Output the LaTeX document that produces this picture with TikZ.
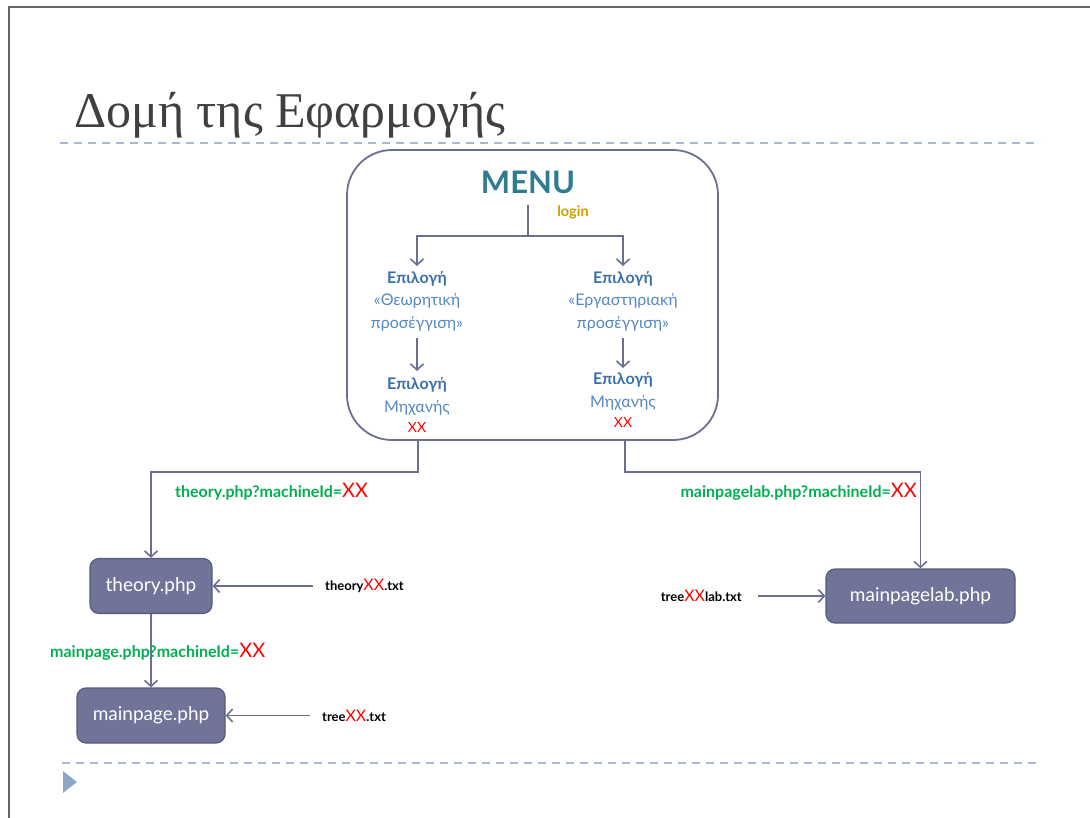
\documentclass[tikz,border=0pt]{standalone}
\usepackage{fontspec}
\setmainfont{Lato}
\newfontfamily\titlefont{Liberation Serif}
\usetikzlibrary{arrows.meta}
\definecolor{conn}{HTML}{6B7093}
\definecolor{boxfill}{HTML}{6F7498}
\definecolor{boxedge}{HTML}{575C7F}
\definecolor{dashc}{HTML}{A7BBD0}
\definecolor{tri}{HTML}{8EA8C3}
\definecolor{menuc}{HTML}{2F7C8E}
\definecolor{gblue}{HTML}{3A70AA}
\definecolor{lblue}{HTML}{5588C0}
\definecolor{loginc}{HTML}{C8A000}
\definecolor{greenc}{HTML}{00B050}
\definecolor{redc}{HTML}{FF0000}
\definecolor{titlec}{HTML}{404040}
\tikzset{
  wire/.style={draw=conn, line width=1.6pt},
  arr/.style={wire, -{Straight Barb[length=6pt,width=13pt,line width=1.6pt]}},
  phpbox/.style={draw=boxedge, line width=1.2pt, fill=boxfill, rounded corners=9pt, text=white, font=\fontsize{19}{22}\selectfont, inner sep=0pt},
  gtext/.style={align=center, font=\fontsize{16}{22.5}\selectfont, text=lblue, inner sep=0pt},
  lbl/.style={font=\bfseries\fontsize{16}{18}\selectfont, text=greenc, inner sep=0pt},
  ftxt/.style={font=\bfseries\fontsize{13}{14}\selectfont, text=black, inner sep=0pt},
  dashln/.style={draw=dashc, line width=1.6pt, dash pattern=on 8pt off 6pt},
}
\newcommand{\xx}{\textcolor{redc}{\mdseries\fontsize{20}{20}\selectfont XX}}
\newcommand{\xs}{\textcolor{redc}{\mdseries\fontsize{16}{16}\selectfont XX}}
\begin{document}
\begin{tikzpicture}[x=1pt,y=-1pt]
\useasboundingbox (0,0) rectangle (1090,818);
\fill[white] (0,0) rectangle (1090,818);
% slide border
\draw[draw=gray!80!black, line width=2pt] (8.5,818) -- (8.5,7) -- (1090,7);
% title
\node[anchor=base west, inner sep=0pt, text=titlec, font=\titlefont\fontsize{50}{50}\selectfont] (title) at (74,128) {Δομή της Εφαρμογής};
\draw[dashln] (60,143) -- (1040,143);
\draw[dashln] (62,763) -- (1040,763);
\fill[tri] (63,771) -- (77,782) -- (63,793) -- cycle;
% menu frame
\node[draw=conn, line width=1.8pt, rounded corners=45pt, minimum width=371pt, minimum height=290pt, inner sep=0pt] (menu) at (532.5,295) {};
\node[text=menuc, font=\bfseries\fontsize{31}{31}\selectfont, inner sep=0pt] (menut) at (528,182) {MENU};
\node[text=loginc, font=\bfseries\fontsize{14.5}{14.5}\selectfont, inner sep=0pt] (login) at (573,212) {login};
\coordinate (mtop) at (528,205);
\coordinate (msplit) at (528,236);
% left column
\node[gtext] (l1) at (417,301) {\textbf{\textcolor{gblue}{Επιλογή}}\\«Θεωρητική\\προσέγγιση»};
\node[gtext] (l2) at (417,405) {\textbf{\textcolor{gblue}{Επιλογή}}\\Μηχανής\\[-2pt]{\fontsize{14}{14}\selectfont\textcolor{redc}{XX}}};
% right column
\node[gtext] (r1) at (623,301) {\textbf{\textcolor{gblue}{Επιλογή}}\\«Εργαστηριακή\\προσέγγιση»};
\node[gtext] (r2) at (623,400) {\textbf{\textcolor{gblue}{Επιλογή}}\\Μηχανής\\[-2pt]{\fontsize{14}{14}\selectfont\textcolor{redc}{XX}}};
\coordinate (l1in) at (417,266);
\coordinate (r1in) at (623,266);
\coordinate (l1out) at (417,338);
\coordinate (r1out) at (623,338);
\coordinate (l2in) at (417,371);
\coordinate (r2in) at (623,368);
\draw[wire] (mtop) -- (msplit);
\draw[arr] (msplit) -| (l1in);
\draw[arr] (msplit) -| (r1in);
\draw[arr] (l1out) -- (l2in);
\draw[arr] (r1out) -- (r2in);
% php boxes
\node[phpbox, minimum width=122pt, minimum height=55pt] (theory) at (151,586) {theory.php};
\node[phpbox, minimum width=148pt, minimum height=55pt] (mainpage) at (151,715.5) {mainpage.php};
\node[phpbox, minimum width=189pt, minimum height=54pt] (lab) at (920.5,596) {mainpagelab.php};
% connectors from menu
\coordinate (lout) at (418,440);
\coordinate (rout) at (625,440);
\draw[arr] (lout) -- (418,472) -| (theory.north);
\draw[arr] (rout) -- (625,472) -| (lab.north);
\node[lbl, anchor=west] (tlbl) at (175,492) {theory.php?machineId=\xx};
\node[lbl, anchor=east] (rlbl) at (917,492) {mainpagelab.php?machineId=\xx};
\draw[arr] (theory.south) -- (mainpage.north);
\node[lbl, anchor=west] (mlbl) at (50,652) {mainpage.php?machineId=\xx};
% files
\node[ftxt, anchor=west] (f1) at (325,586) {theory\xs.txt};
\node[ftxt, anchor=west] (f2) at (322,715.5) {tree\xs.txt};
\node[ftxt, anchor=east] (f3) at (742,596) {tree\xs lab.txt};
\draw[arr] ([xshift=-12pt]f1.west) -- (theory.east);
\draw[arr] ([xshift=-12pt]f2.west) -- (mainpage.east);
\draw[arr] ([xshift=16pt]f3.east) -- (lab.west);
\end{tikzpicture}
\end{document}
